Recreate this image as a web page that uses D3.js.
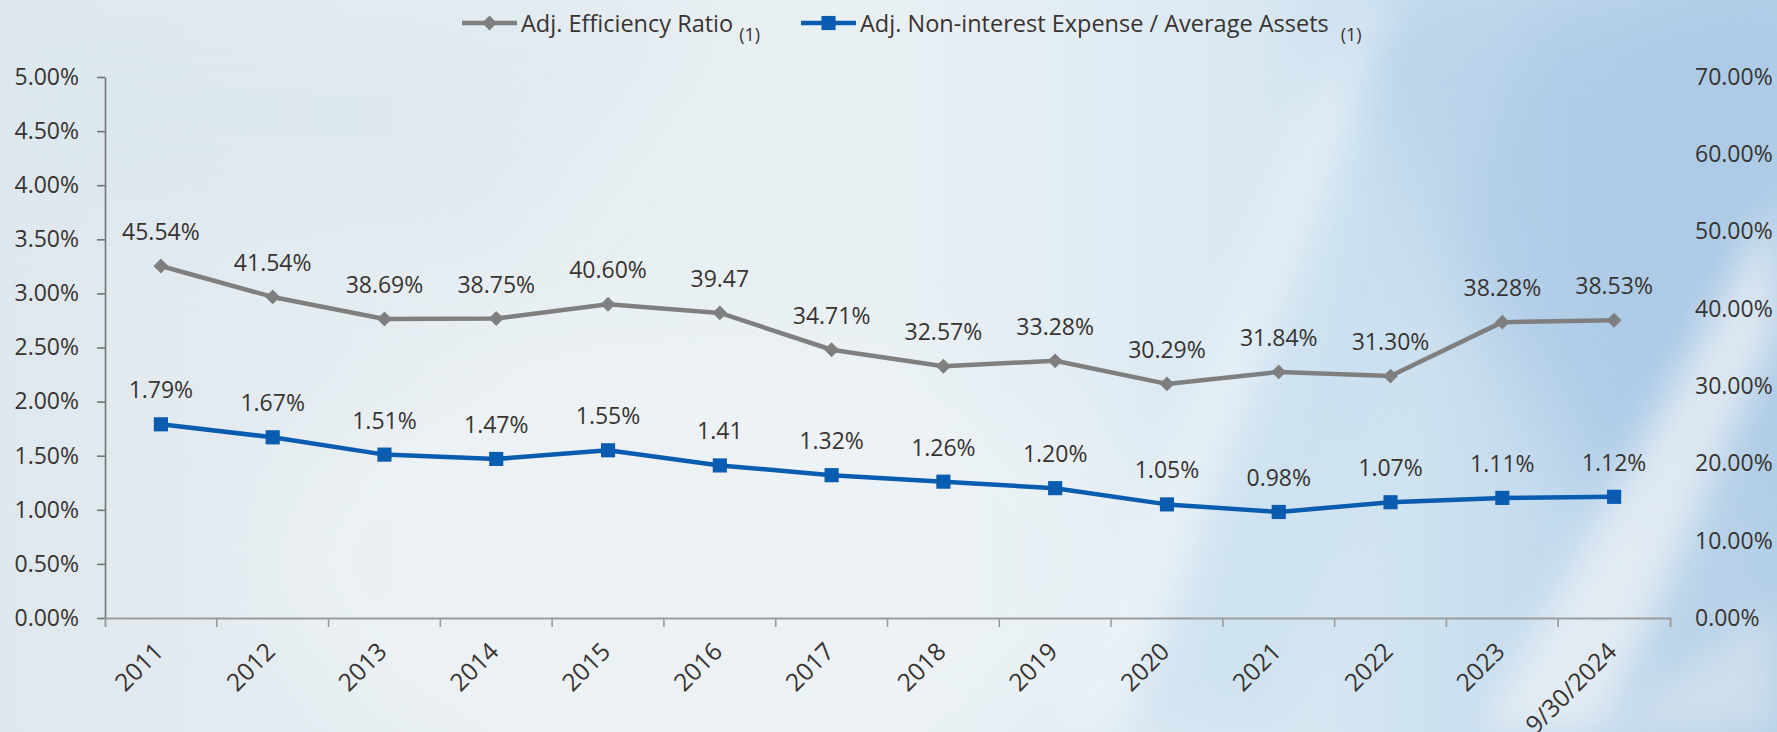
<!DOCTYPE html>
<html>
<head>
<meta charset="utf-8">
<script src="https://cdn.jsdelivr.net/npm/d3@7"></script>
<style>
  html, body { margin: 0; padding: 0; background: #e6edf2; }
  svg { display: block; }
  text { font-family: "Open Sans", "DejaVu Sans", sans-serif; fill: #383431; }
</style>
</head>
<body>
<svg id="chart" width="1777" height="732"></svg>
<script>
// ---------------- data ----------------
const categories = ["2011","2012","2013","2014","2015","2016","2017","2018","2019","2020","2021","2022","2023","9/30/2024"];
const efficiencyRatio = [45.54, 41.54, 38.69, 38.75, 40.60, 39.47, 34.71, 32.57, 33.28, 30.29, 31.84, 31.30, 38.28, 38.53];
const efficiencyLabels = ["45.54%","41.54%","38.69%","38.75%","40.60%","39.47","34.71%","32.57%","33.28%","30.29%","31.84%","31.30%","38.28%","38.53%"];
const expenseToAssets = [1.79, 1.67, 1.51, 1.47, 1.55, 1.41, 1.32, 1.26, 1.20, 1.05, 0.98, 1.07, 1.11, 1.12];
const expenseLabels = ["1.79%","1.67%","1.51%","1.47%","1.55%","1.41","1.32%","1.26%","1.20%","1.05%","0.98%","1.07%","1.11%","1.12%"];
const leftTicks = [0, 0.5, 1, 1.5, 2, 2.5, 3, 3.5, 4, 4.5, 5];
const rightTicks = [0, 10, 20, 30, 40, 50, 60, 70];
const legendNames = ["Adj. Efficiency Ratio", "Adj. Non-interest Expense / Average Assets"];

// ---------------- setup ----------------
const W = 1777, H = 732;
const svg = d3.select("#chart");
const defs = svg.append("defs");

// background
const bg = defs.append("linearGradient").attr("id","bgGrad").attr("x1","0").attr("y1","0").attr("x2","1").attr("y2","0");
[["0","#dfe8ee"],["0.3","#e8eff3"],["0.5","#e9f0f4"],["0.62","#e1ecf4"],["0.75","#d5e6f1"],["0.88","#c3daed"],["1","#b3cfe7"]]
  .forEach(([o,c]) => bg.append("stop").attr("offset",o).attr("stop-color",c));
svg.append("rect").attr("width",W).attr("height",H).attr("fill","url(#bgGrad)");

const blur = (id, s) => defs.append("filter").attr("id",id).attr("x","-50%").attr("y","-50%").attr("width","200%").attr("height","200%")
  .append("feGaussianBlur").attr("stdDeviation", s);
blur("b40", 40); blur("b28", 28); blur("b18", 18);

const bgLayer = svg.append("g");
bgLayer.append("polygon").attr("points","0,0 700,0 500,250 0,200").attr("fill","#d9e5ee").attr("opacity",0.5).attr("filter","url(#b40)");
bgLayer.append("polygon").attr("points","1320,0 1777,0 1777,420 1620,520 1470,300").attr("fill","#a4c5e4").attr("opacity",0.6).attr("filter","url(#b40)");
bgLayer.append("polygon").attr("points","1120,732 1270,732 1540,0 1400,0").attr("fill","#c3dbee").attr("opacity",0.45).attr("filter","url(#b28)");
bgLayer.append("polygon").attr("points","1060,732 1120,732 1400,0 1350,0").attr("fill","#ffffff").attr("opacity",0.3).attr("filter","url(#b18)");
bgLayer.append("polygon").attr("points","1480,732 1600,732 1777,330 1777,200").attr("fill","#eef2f5").attr("opacity",0.75).attr("filter","url(#b18)");
bgLayer.append("polygon").attr("points","1600,732 1777,732 1777,600").attr("fill","#dfe7ee").attr("opacity",0.6).attr("filter","url(#b18)");
bgLayer.append("ellipse").attr("cx",700).attr("cy",560).attr("rx",450).attr("ry",220).attr("fill","#f0f4f6").attr("opacity",0.5).attr("filter","url(#b40)");

// ---------------- scales ----------------
const x = d3.scaleBand().domain(categories).range([105, 1670]).paddingInner(0).paddingOuter(0);
const bw = x.bandwidth();
const cx = c => x(c) + bw / 2;
const yL = d3.scaleLinear().domain([0, 5]).range([618, 77]);
const yR = d3.scaleLinear().domain([0, 70]).range([618, 77]);

// ---------------- axes ----------------
const leftAxis = svg.append("g").attr("transform","translate(105,0)")
  .call(d3.axisLeft(yL).tickValues(leftTicks).tickFormat(d => d.toFixed(2) + "%").tickSize(8).tickSizeOuter(0).tickPadding(18));
leftAxis.select(".domain").attr("stroke","#747474").attr("stroke-width",1.6);
leftAxis.selectAll(".tick line").attr("stroke","#747474").attr("stroke-width",1.6);
leftAxis.selectAll(".tick text").style("font-size","23px").attr("fill","#383431");

const rightAxis = svg.append("g").attr("transform","translate(1670,0)")
  .call(d3.axisRight(yR).tickValues(rightTicks).tickFormat(d => d.toFixed(2) + "%").tickSize(0).tickPadding(25));
rightAxis.select(".domain").remove();
rightAxis.selectAll(".tick text").style("font-size","23px").attr("fill","#383431");

const xAxis = svg.append("g").attr("transform","translate(0,618)")
  .call(d3.axisBottom(x).tickSizeInner(9).tickSizeOuter(9).tickFormat(""));
xAxis.select(".domain").attr("stroke","#9b9b9b").attr("stroke-width",2);
xAxis.selectAll(".tick line").attr("stroke","#9b9b9b").attr("stroke-width",1.6)
  .attr("x1", -bw/2).attr("x2", -bw/2);
xAxis.selectAll(".tick").filter((d,i) => i === 0).select("line").remove();

svg.append("g").selectAll("text").data(categories).join("text")
  .attr("transform", d => `translate(${cx(d) + 4},${653}) rotate(-45)`)
  .attr("text-anchor","end")
  .style("font-size","24.5px")
  .text(d => d);

// ---------------- lines ----------------
const grayC = "#7f7f7f", blueC = "#0a5cb0";
const lineR = d3.line().x((d,i) => cx(categories[i])).y(d => yR(d));
const lineL = d3.line().x((d,i) => cx(categories[i])).y(d => yL(d));

svg.append("path").datum(efficiencyRatio).attr("d", lineR).attr("fill","none").attr("stroke",grayC).attr("stroke-width",4.5).attr("stroke-linejoin","round");
svg.append("path").datum(expenseToAssets).attr("d", lineL).attr("fill","none").attr("stroke",blueC).attr("stroke-width",4.5).attr("stroke-linejoin","round");

const diamond = d3.symbol().type(d3.symbolSquare).size(110);
const square = d3.symbol().type(d3.symbolSquare).size(200);

svg.append("g").selectAll("path").data(efficiencyRatio).join("path")
  .attr("d", diamond).attr("fill", grayC)
  .attr("transform", (d,i) => `translate(${cx(categories[i])},${yR(d)}) rotate(45)`);
svg.append("g").selectAll("path").data(expenseToAssets).join("path")
  .attr("d", square).attr("fill", blueC)
  .attr("transform", (d,i) => `translate(${cx(categories[i])},${yL(d)})`);

// data labels
svg.append("g").selectAll("text").data(efficiencyRatio).join("text")
  .attr("x", (d,i) => cx(categories[i])).attr("y", d => yR(d) - 26)
  .attr("text-anchor","middle").style("font-size","23px")
  .text((d,i) => efficiencyLabels[i]);
svg.append("g").selectAll("text").data(expenseToAssets).join("text")
  .attr("x", (d,i) => cx(categories[i])).attr("y", d => yL(d) - 26)
  .attr("text-anchor","middle").style("font-size","23px")
  .text((d,i) => expenseLabels[i]);

// ---------------- legend ----------------
const legend = svg.append("g");
const items = [
  {name: legendNames[0], color: grayC, sym: diamond, rot: 45, x0: 462, subDx: 6},
  {name: legendNames[1], color: blueC, sym: square, rot: 0, x0: 801, subDx: 12}
];
items.forEach(it => {
  const g = legend.append("g");
  g.append("line").attr("x1", it.x0).attr("x2", it.x0 + 55).attr("y1", 23).attr("y2", 23)
    .attr("stroke", it.color).attr("stroke-width", 4.5);
  g.append("path").attr("d", it.sym).attr("fill", it.color)
    .attr("transform", `translate(${it.x0 + 27.5},23) rotate(${it.rot})`);
  const t = g.append("text").attr("x", it.x0 + 59).attr("y", 32).style("font-size","23.5px");
  t.append("tspan").text(it.name);
  t.append("tspan").attr("dx", it.subDx).attr("dy", 9).style("font-size","18px").text("(1)");
});
</script>
</body>
</html>
